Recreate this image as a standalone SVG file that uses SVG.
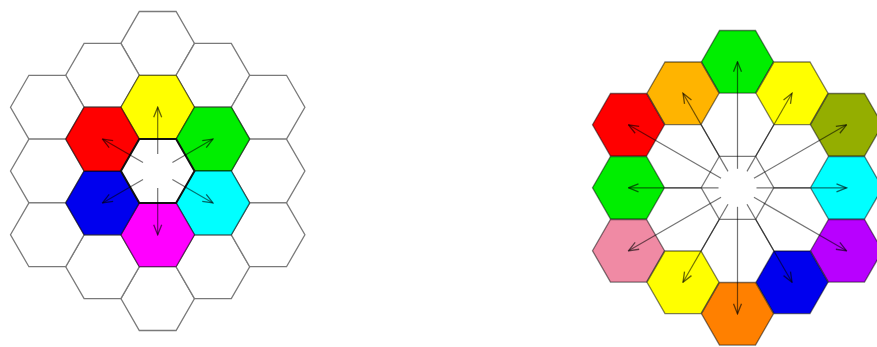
<svg xmlns="http://www.w3.org/2000/svg" xmlns:xlink="http://www.w3.org/1999/xlink" width="877" height="347" viewBox="0 0 877 347">
<style>
.bg{fill:#fff}
.cell{fill:#fff;stroke:#7a7a7a;stroke-width:1.3}
.col{stroke:#000;stroke-opacity:0.5;stroke-width:1.3}
.ctrL{fill:#fff;stroke:#111;stroke-width:2}
.ctrR{fill:none;stroke:#7a7a7a;stroke-width:1.3}
.edge{stroke:#7a7a7a;stroke-width:1.3;fill:none}
.arr{stroke:#000;stroke-opacity:0.55;stroke-width:1.2;fill:none;marker-end:url(#ah)}
</style>
<defs>
<polygon id="hL" points="-36.8,0 -18.4,-31.9 18.4,-31.9 36.8,0 18.4,31.9 -18.4,31.9"/>
<polygon id="hR" points="-36,0 -18,-31.3 18,-31.3 36,0 18,31.3 -18,31.3"/>
<marker id="ah" viewBox="0 0 12 10" refX="11" refY="5" markerWidth="12" markerHeight="10" markerUnits="userSpaceOnUse" orient="auto">
<path d="M1,1 L11,5 L1,9" fill="none" stroke="#000" stroke-opacity="0.6" stroke-width="1.3"/>
</marker>
</defs>
<rect class="bg" x="0" y="0" width="877" height="347"/>

<!-- Left figure: 19-cell hexagonal grid -->
<g id="left-grid">
<g id="L-c0r0"><use href="#hL" class="cell" x="157.7" y="43.4"/></g>
<g id="L-c0r4"><use href="#hL" class="cell" x="157.7" y="298.6"/></g>
<g id="L-cm1r0"><use href="#hL" class="cell" x="102.5" y="75.3"/></g>
<g id="L-cm1r3"><use href="#hL" class="cell" x="102.5" y="266.7"/></g>
<g id="L-cp1r0"><use href="#hL" class="cell" x="212.9" y="75.3"/></g>
<g id="L-cp1r3"><use href="#hL" class="cell" x="212.9" y="266.7"/></g>
<g id="L-cm2r0"><use href="#hL" class="cell" x="47.3" y="107.2"/></g>
<g id="L-cm2r1"><use href="#hL" class="cell" x="47.3" y="171"/></g>
<g id="L-cm2r2"><use href="#hL" class="cell" x="47.3" y="234.8"/></g>
<g id="L-cp2r0"><use href="#hL" class="cell" x="268.1" y="107.2"/></g>
<g id="L-cp2r1"><use href="#hL" class="cell" x="268.1" y="171"/></g>
<g id="L-cp2r2"><use href="#hL" class="cell" x="268.1" y="234.8"/></g>
<g id="L-yellow"><use href="#hL" class="col" fill="#ffff00" x="157.7" y="107.2"/></g>
<g id="L-green"><use href="#hL" class="col" fill="#00ee00" x="212.9" y="139.1"/></g>
<g id="L-cyan"><use href="#hL" class="col" fill="#00ffff" x="212.9" y="202.9"/></g>
<g id="L-magenta"><use href="#hL" class="col" fill="#ff00ff" x="157.7" y="234.8"/></g>
<g id="L-blue"><use href="#hL" class="col" fill="#0000ee" x="102.5" y="202.9"/></g>
<g id="L-red"><use href="#hL" class="col" fill="#ff0000" x="102.5" y="139.1"/></g>
<g id="L-center"><use href="#hL" class="ctrL" x="157.7" y="171"/></g>
</g>

<!-- Right figure: ring of 12 cells -->
<g id="right-grid">
<g id="R-top"><use href="#hR" class="col" fill="#00ee00" x="737.5" y="61.8"/></g>
<g id="R-ul"><use href="#hR" class="col" fill="#ffb400" x="683" y="93.3"/></g>
<g id="R-ur"><use href="#hR" class="col" fill="#ffff00" x="792" y="93.3"/></g>
<g id="R-lup"><use href="#hR" class="col" fill="#ff0000" x="628.5" y="124.8"/></g>
<g id="R-rup"><use href="#hR" class="col" fill="#94ae00" x="846.5" y="124.8"/></g>
<g id="R-lmid"><use href="#hR" class="col" fill="#00ee00" x="628.5" y="187.8"/></g>
<g id="R-rmid"><use href="#hR" class="col" fill="#00ffff" x="846.5" y="187.8"/></g>
<g id="R-llow"><use href="#hR" class="col" fill="#f08aa4" x="628.5" y="250.8"/></g>
<g id="R-rlow"><use href="#hR" class="col" fill="#b800ff" x="846.5" y="250.8"/></g>
<g id="R-ll"><use href="#hR" class="col" fill="#ffff00" x="683" y="282.3"/></g>
<g id="R-lr"><use href="#hR" class="col" fill="#0000ee" x="792" y="282.3"/></g>
<g id="R-bottom"><use href="#hR" class="col" fill="#ff8000" x="737.5" y="313.8"/></g>
<g id="R-center">
<polygon class="ctrR" points="701.2,187.8 719.35,156.3 755.65,156.3 773.8,187.8 755.65,219.3 719.35,219.3"/>
<path class="edge" d="M701.2,187.8 L664.9,187.8 M773.8,187.8 L810.1,187.8 M719.35,156.3 L701.2,124.8 M755.65,156.3 L773.8,124.8 M719.35,219.3 L701.2,250.8 M755.65,219.3 L773.8,250.8"/>
</g>
</g>

<g id="connectors">
<line class="arr" x1="157.7" y1="154" x2="157.7" y2="107.2"/>
<line class="arr" x1="157.7" y1="188" x2="157.7" y2="234.8"/>
<line class="arr" x1="172.4" y1="162.5" x2="212.9" y2="139.1"/>
<line class="arr" x1="172.4" y1="179.5" x2="212.9" y2="202.9"/>
<line class="arr" x1="143" y1="162.5" x2="102.5" y2="139.1"/>
<line class="arr" x1="143" y1="179.5" x2="102.5" y2="202.9"/>

<line class="arr" x1="737.5" y1="168.8" x2="737.5" y2="61.8"/>
<line class="arr" x1="737.5" y1="206.8" x2="737.5" y2="313.8"/>
<line class="arr" x1="728" y1="171.35" x2="683" y2="93.3"/>
<line class="arr" x1="747" y1="171.35" x2="792" y2="93.3"/>
<line class="arr" x1="728" y1="204.25" x2="683" y2="282.3"/>
<line class="arr" x1="747" y1="204.25" x2="792" y2="282.3"/>
<line class="arr" x1="721.05" y1="178.3" x2="628.5" y2="124.8"/>
<line class="arr" x1="718.5" y1="187.8" x2="628.5" y2="187.8"/>
<line class="arr" x1="721.05" y1="197.3" x2="628.5" y2="250.8"/>
<line class="arr" x1="753.95" y1="178.3" x2="846.5" y2="124.8"/>
<line class="arr" x1="756.5" y1="187.8" x2="846.5" y2="187.8"/>
<line class="arr" x1="753.95" y1="197.3" x2="846.5" y2="250.8"/>
</g>
</svg>
